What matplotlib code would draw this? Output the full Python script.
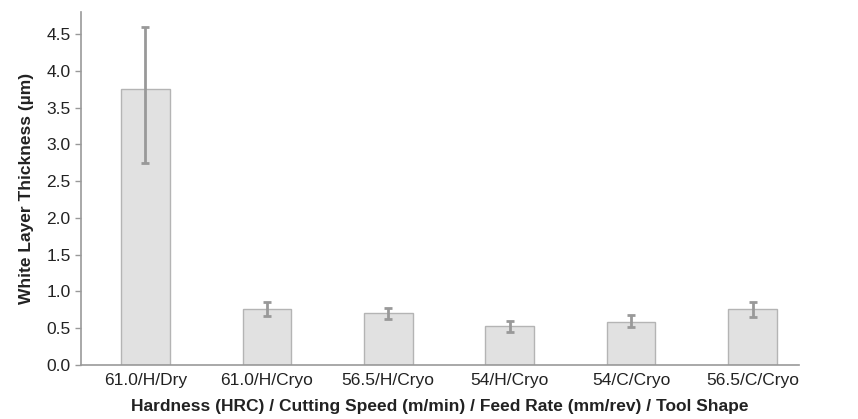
import numpy as np
import matplotlib
matplotlib.use("Agg")
import matplotlib.pyplot as plt

plt.rcParams['font.family'] = ['Liberation Sans', 'DejaVu Sans']

labels = ["61.0/H/Dry", "61.0/H/Cryo", "56.5/H/Cryo", "54/H/Cryo", "54/C/Cryo", "56.5/C/Cryo"]
thickness = [3.75, 0.76, 0.70, 0.53, 0.59, 0.76]
err_low = [1.00, 0.10, 0.08, 0.08, 0.07, 0.11]
err_high = [0.85, 0.09, 0.08, 0.07, 0.09, 0.10]

fig = plt.figure(figsize=(8.58, 4.19), dpi=100)
ax = fig.add_axes([0.0944, 0.129, 0.8366, 0.842])

x = np.arange(len(labels))
ax.bar(x, thickness, width=0.4, color='#e1e1e1', edgecolor='#b4b4b4', linewidth=1)
ax.errorbar(x, thickness, yerr=[err_low, err_high], fmt='none', ecolor='#999999',
            elinewidth=2, capsize=3, capthick=2)

ax.set_xlim(-0.53, 5.38)
ax.set_ylim(0, 4.8)
ax.set_yticks(np.arange(0, 4.51, 0.5))
ax.set_yticklabels(["%.1f" % v for v in np.arange(0, 4.51, 0.5)])
ax.set_xticks(x)
ax.set_xticklabels(labels)
ax.tick_params(axis='x', length=0, labelsize=12.5, pad=6, colors='#222222')
ax.tick_params(axis='y', length=4, width=1, color='#999999', labelsize=12.5, labelcolor='#222222')

for s in ['top', 'right']:
    ax.spines[s].set_visible(False)
for s in ['left', 'bottom']:
    ax.spines[s].set_color('#999999')
    ax.spines[s].set_linewidth(1.2)

ax.set_ylabel("White Layer Thickness (µm)", fontsize=12.5, fontweight='bold', color='#222222', labelpad=9)
ax.set_xlabel("Hardness (HRC) / Cutting Speed (m/min) / Feed Rate (mm/rev) / Tool Shape",
              fontsize=12.5, fontweight='bold', color='#222222', labelpad=8)

fig.savefig("out.png", dpi=100)
